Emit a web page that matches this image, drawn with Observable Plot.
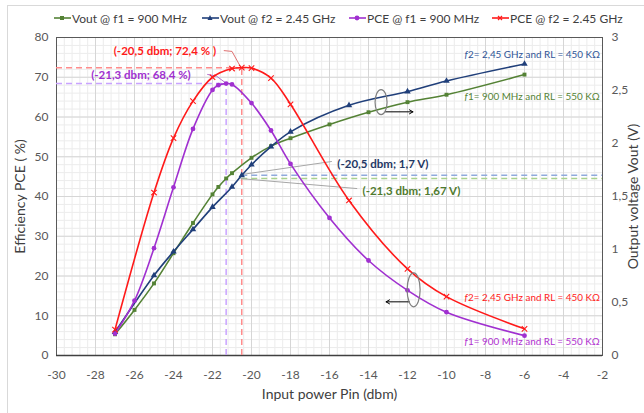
<!DOCTYPE html>
<html><head><meta charset="utf-8">
<script src="https://cdn.jsdelivr.net/npm/d3@7"></script>
<script src="https://cdn.jsdelivr.net/npm/@observablehq/plot@0.6"></script>
<style>
body{margin:0;background:#fff;font-family:Lato,"Open Sans",sans-serif;}
#wrap{position:relative;width:644px;height:413px;overflow:hidden;background:#fff;}
#border{position:absolute;left:7px;top:5px;width:700px;height:500px;border:1px solid #d9d9d9;box-sizing:border-box;}
#chart{position:absolute;left:0;top:0;}
.lg{position:absolute;top:10px;height:16px;display:flex;align-items:center;font-size:12px;color:#404040;white-space:nowrap;}
.lg svg{margin-right:1px;}
</style></head>
<body>
<div id="wrap"><div id="border"></div><div id="chart"></div><div id="legend"></div></div>
<script>
// ---- data ----
const seriesNames = ["Vout @ f1 = 900 MHz", "Vout @ f2 = 2.45 GHz", "PCE @ f1 = 900 MHz", "PCE @ f2 = 2.45 GHz"];

const pinVoutF1 = [-27, -26, -25, -24, -23, -22, -21.7, -21.3, -21, -20, -19, -18, -16, -14, -12, -10, -6];
const voutF1    = [0.2, 0.43, 0.68, 0.965, 1.25, 1.52, 1.59, 1.67, 1.72, 1.865, 1.975, 2.05, 2.18, 2.295, 2.39, 2.46, 2.65];

const pinVoutF2 = [-27, -25, -24, -23, -22, -21, -20.5, -20, -19, -18, -15, -12, -10, -6];
const voutF2    = [0.22, 0.755, 0.98, 1.19, 1.40, 1.59, 1.70, 1.80, 1.97, 2.11, 2.36, 2.49, 2.59, 2.75];

const pinPceF1 = [-27, -26, -25, -24, -23, -22, -21.7, -21.3, -21, -20, -19, -18, -16, -14, -12, -10, -6];
const pceF1    = [5.5, 13.8, 27, 42.3, 57, 66.8, 68, 68.4, 68.2, 63.5, 56.6, 48.2, 34.6, 23.9, 16.4, 10.9, 5.0];

const pinPceF2 = [-27, -25, -24, -23, -22, -21, -20.5, -20, -19, -18, -15, -12, -10, -6];
const pceF2    = [6.5, 41, 54.7, 64, 70, 72.2, 72.4, 72.3, 69.8, 63.2, 39, 21.8, 14.8, 6.7];

const xTicks = [-30, -28, -26, -24, -22, -20, -18, -16, -14, -12, -10, -8, -6, -4, -2];
const yTicks = [0, 10, 20, 30, 40, 50, 60, 70, 80];
const vTicks = [0, 0.5, 1, 1.5, 2, 2.5, 3];

// peaks / operating points
const peakF2 = {pin: -20.5, pce: 72.4, vout: 1.7};
const peakF1 = {pin: -21.3, pce: 68.4, vout: 1.67};

// ---- helpers ----
const K = 80 / 3; // volts -> primary (%) axis
const comma = v => String(v).replace(".", ",");
const colors = {g: "#548235", b: "#203f7a", p: "#a030d0", r: "#ff1a1a"};
const tbl = (xs, ys, k = 1) => xs.map((x, i) => ({x, y: ys[i] * k}));
const dVF1 = tbl(pinVoutF1, voutF1, K), dVF2 = tbl(pinVoutF2, voutF2, K);
const dPF1 = tbl(pinPceF1, pceF1), dPF2 = tbl(pinPceF2, pceF2);

const xMinor = d3.range(0, 71).map(i => -30 + i * 0.4);
const yMinor = d3.range(0, 41).map(i => i * 2);

const font = "Lato, 'Open Sans', sans-serif";

// annotation anchors in data units
const labelsBold = [
  {x: -24.44, y: 76.6, text: "(-20,5 dbm; 72,4 % )", fill: "#ff1a1a"},
  {x: -25.67, y: 70.6, text: "(-21,3 dbm; 68,4 %)", fill: "#a030d0"},
  {x: -13.26, y: 48.0, text: "(-20,5 dbm; 1,7 V)", fill: "#1f3864"},
  {x: -11.8, y: 41.3, text: "(-21,3 dbm; 1,67 V)", fill: "#4f7a2e"}
];
const sideLabels = [
  {x: -9.08, y: 75.7, text: "2= 2,45 GHz and RL = 450 KΩ", fill: "#2f5597"},
  {x: -9.08, y: 65.2, text: "1= 900 MHz and RL = 550 KΩ", fill: "#548235"},
  {x: -9.08, y: 14.5, text: "2= 2,45 GHz and RL = 450 KΩ", fill: "#ff1a1a"},
  {x: -9.08, y: 3.4, text: "1= 900 MHz and RL = 550 KΩ", fill: "#b030d0"}
];
const leaderRed = [{x: -21.4, y: 76.7}, {x: -21.0, y: 76.5}, {x: -20.56, y: 72.6}];
const leaderPurple = [{x: -22.25, y: 70.7}, {x: -21.8, y: 70.3}, {x: -21.33, y: 68.6}];
const leaderBlue = [{x: -15.9, y: 48.8}, {x: -20.55, y: 45.5}];
const leaderGreen = [{x: -14.6, y: 42.0}, {x: -20.55, y: 44.5}];
const arrows = [
  {x1: -13.13, y1: 61.3, x2: -11.72, y2: 61.3},
  {x1: -11.9, y1: 13.5, x2: -13.1, y2: 13.5}
];
const ellipses = [{x: -13.33, y: 63.6, rx: 6, ry: 12.5}, {x: -11.66, y: 16.4, rx: 6.5, ry: 17}];

const chart = Plot.plot({
  width: 644, height: 413,
  marginLeft: 56, marginRight: 42, marginTop: 37, marginBottom: 58,
  style: {fontFamily: font, fontSize: "12px", color: "#595959", background: "transparent", overflow: "visible"},
  x: {domain: [-30, -2]},
  y: {domain: [0, 80]},
  marks: [
    Plot.gridX(xMinor, {stroke: "#ececec", strokeOpacity: 1}),
    Plot.gridY(yMinor, {stroke: "#ececec", strokeOpacity: 1}),
    Plot.gridX(xTicks, {stroke: "#d6d6d6", strokeOpacity: 1}),
    Plot.gridY(yTicks, {stroke: "#d6d6d6", strokeOpacity: 1}),
    Plot.axisX(xTicks, {tickSize: 0, tickPadding: 15, label: null, fill: "#595959", tickFormat: d => String(d)}),
    Plot.axisY(yTicks, {tickSize: 0, tickPadding: 8, label: null, fill: "#595959", tickFormat: d => String(d)}),
    Plot.axisY(vTicks.map(v => v * K), {anchor: "right", tickSize: 0, tickPadding: 9, label: null, fill: "#595959",
      tickFormat: d => comma(+(d / K).toFixed(1))}),
    Plot.frame({stroke: "#595959"}),
    Plot.ruleY([0], {stroke: "#404040", strokeWidth: 1.5}),
    // dashed reference lines
    Plot.ruleY([peakF2.pce], {x1: -30, x2: peakF2.pin, stroke: "#ff8c8c", strokeWidth: 1.5, strokeDasharray: "6,4"}),
    Plot.ruleX([peakF2.pin], {y1: 0, y2: peakF2.pce, stroke: "#ff8c8c", strokeWidth: 1.5, strokeDasharray: "6,4"}),
    Plot.ruleY([peakF1.pce], {x1: -30, x2: peakF1.pin, stroke: "#c9a3ff", strokeWidth: 1.5, strokeDasharray: "6,4"}),
    Plot.ruleX([peakF1.pin], {y1: 0, y2: peakF1.pce, stroke: "#c9a3ff", strokeWidth: 1.5, strokeDasharray: "6,4"}),
    Plot.ruleY([peakF2.vout * K], {x1: peakF2.pin, x2: -2, stroke: "#8faadc", strokeWidth: 1.5, strokeDasharray: "6,4"}),
    Plot.ruleY([peakF1.vout * K], {x1: peakF2.pin, x2: -2, stroke: "#a9d18e", strokeWidth: 1.5, strokeDasharray: "6,4"}),
    // leaders
    Plot.line(leaderBlue, {x: "x", y: "y", stroke: "#a6a6a6", strokeWidth: 1}),
    Plot.line(leaderGreen, {x: "x", y: "y", stroke: "#a6a6a6", strokeWidth: 1}),
    Plot.line(leaderRed, {x: "x", y: "y", stroke: "#e07070", strokeWidth: 1}),
    Plot.line(leaderPurple, {x: "x", y: "y", stroke: "#b070d0", strokeWidth: 1}),
    // series
    Plot.line(dVF1, {x: "x", y: "y", stroke: colors.g, strokeWidth: 1.6, curve: "catmull-rom"}),
    Plot.dot(dVF1, {x: "x", y: "y", fill: colors.g, symbol: "square", r: 2.2}),
    Plot.line(dVF2, {x: "x", y: "y", stroke: colors.b, strokeWidth: 1.6, curve: "catmull-rom"}),
    Plot.dot(dVF2, {x: "x", y: "y", fill: colors.b, symbol: "triangle", r: 2.4}),
    Plot.line(dPF1, {x: "x", y: "y", stroke: colors.p, strokeWidth: 1.6, curve: "catmull-rom"}),
    Plot.dot(dPF1, {x: "x", y: "y", fill: colors.p, symbol: "circle", r: 2.4}),
    Plot.line(dPF2, {x: "x", y: "y", stroke: colors.r, strokeWidth: 1.6, curve: "catmull-rom"}),
    Plot.dot(dPF2, {x: "x", y: "y", stroke: colors.r, symbol: "times", r: 2.6, strokeWidth: 1.1}),
    // annotations
    Plot.text(labelsBold, {x: "x", y: "y", text: "text", fill: "fill", fontWeight: "bold", fontSize: 11.5}),
    Plot.text(sideLabels, {x: "x", y: "y", text: () => "f", fill: "fill", fontStyle: "italic", fontSize: 9.9, textAnchor: "start"}),
    Plot.text(sideLabels, {x: "x", y: "y", text: "text", fill: "fill", fontSize: 9.9, textAnchor: "start", dx: 3.5}),
    Plot.arrow(arrows, {x1: "x1", y1: "y1", x2: "x2", y2: "y2", stroke: "#000", strokeWidth: 1, headLength: 6}),
    // axis titles
    Plot.text(["Input power Pin (dbm)"], {frameAnchor: "bottom", dy: 43, text: d => d, fontSize: 14, fill: "#404040", textAnchor: "middle"}),
    Plot.text(["Efficiency PCE ( %)"], {frameAnchor: "left", dx: -36, rotate: -90, text: d => d, fontSize: 14, fill: "#404040", textAnchor: "middle"}),
    Plot.text(["Output voltage Vout (V)"], {frameAnchor: "right", dx: 31, rotate: -90, text: d => d, fontSize: 14, fill: "#404040", textAnchor: "middle"})
  ]
});

// ellipses around curve pairs, positioned through the chart scales
const sx = chart.scale("x"), sy = chart.scale("y");
const svg = d3.select(chart);
svg.append("g").selectAll("ellipse").data(ellipses).join("ellipse")
  .attr("cx", d => sx.apply(d.x)).attr("cy", d => sy.apply(d.y))
  .attr("rx", d => d.rx).attr("ry", d => d.ry)
  .attr("fill", "none").attr("stroke", "#7f7f7f").attr("stroke-width", 1.2);
document.getElementById("chart").appendChild(chart);

// legend
const legendX = [54, 202, 349, 492];
const legendCol = [colors.g, colors.b, colors.p, colors.r];
const legendSym = ["square", "triangle", "circle", "times"];
const leg = document.getElementById("legend");
seriesNames.forEach((name, i) => {
  const el = document.createElement("div");
  el.className = "lg";
  el.style.left = legendX[i] + "px";
  const c = legendCol[i];
  let m = "";
  if (legendSym[i] === "square") m = `<rect x="6" y="6" width="4" height="4" fill="${c}"/>`;
  if (legendSym[i] === "triangle") m = `<path d="M8,5 L10.5,10 L5.5,10Z" fill="${c}"/>`;
  if (legendSym[i] === "circle") m = `<circle cx="8" cy="8" r="2.4" fill="${c}"/>`;
  if (legendSym[i] === "times") m = `<path d="M6,6 L10,10 M10,6 L6,10" stroke="${c}" stroke-width="1.2"/>`;
  el.innerHTML = `<svg width="17" height="16"><line x1="0" x2="17" y1="8" y2="8" stroke="${c}" stroke-width="1.6"/>${m}</svg><span>${name}</span>`;
  leg.appendChild(el);
});
</script>
</body></html>
